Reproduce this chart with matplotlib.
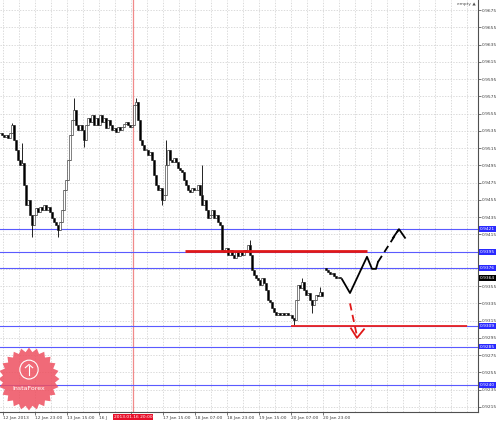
import numpy as np
import matplotlib
matplotlib.use("Agg")
import matplotlib.pyplot as plt
import matplotlib.transforms as mtransforms

# hourly closes (one bar every 2 px)
closes = [
    0.9532, 0.9530, 0.9528, 0.9530, 0.9527, 0.9532, 0.9542, 0.9524, 0.9513, 0.9501,
    0.9495, 0.9498, 0.9472, 0.9449, 0.9455, 0.9437, 0.9426, 0.9437, 0.9446, 0.9441,
    0.9447, 0.9443, 0.9449, 0.9443, 0.9447, 0.9441, 0.9434, 0.9429, 0.9426, 0.9420,
    0.9429, 0.9443, 0.9466, 0.9478, 0.9501, 0.9530, 0.9548, 0.9559, 0.9542, 0.9536,
    0.9542, 0.9536, 0.9524, 0.9542, 0.9550, 0.9545, 0.9553, 0.9542, 0.9550, 0.9542,
    0.9553, 0.9545, 0.9550, 0.9538, 0.9548, 0.9542, 0.9536, 0.9538, 0.9534, 0.9539,
    0.9536, 0.9539, 0.9543, 0.9545, 0.9542, 0.9539, 0.9542, 0.9565, 0.9568, 0.9548,
    0.9524, 0.9519, 0.9513, 0.9513, 0.9507, 0.9510, 0.9501, 0.9484, 0.9472, 0.9466,
    0.9469, 0.9455, 0.9461, 0.9495, 0.9513, 0.9501, 0.9499, 0.9503, 0.9499, 0.9492,
    0.9490, 0.9487, 0.9478, 0.9472, 0.9466, 0.9464, 0.9469, 0.9466, 0.9466, 0.9472,
    0.9461, 0.9449, 0.9455, 0.9443, 0.9434, 0.9437, 0.9443, 0.9434, 0.9437, 0.9429,
    0.9426, 0.9397, 0.9395, 0.9399, 0.9391, 0.9397, 0.9391, 0.9388, 0.9395, 0.9390,
    0.9395, 0.9391, 0.9397, 0.9395, 0.9403, 0.9391, 0.9374, 0.9368, 0.9364, 0.9362,
    0.9356, 0.9364, 0.9359, 0.9350, 0.9339, 0.9337, 0.9330, 0.9325, 0.9322, 0.9324,
    0.9322, 0.9324, 0.9322, 0.9324, 0.9321, 0.9322, 0.9318, 0.9316, 0.9339, 0.9356,
    0.9353, 0.9360, 0.9350, 0.9345, 0.9347, 0.9339, 0.9333, 0.9339, 0.9345, 0.9343,
    0.9348, 0.9344,
]
# after the gap
closes2 = [0.9374, 0.9371, 0.9369, 0.9370, 0.9367, 0.9364, 0.9366, 0.9364]
gap_open = 0.9376

# wick extremes that stick out
spike_high = {6: 0.9544, 11: 0.9521, 37: 0.9573, 68: 0.9573, 83: 0.9524,
              101: 0.9495, 125: 0.9408, 151: 0.9364, 160: 0.9354}
spike_low = {16: 0.9412, 29: 0.9412, 42: 0.9516, 81: 0.9449, 147: 0.9310, 156: 0.9324}

# horizontal levels (blue) and their labels
levels = [0.9421, 0.9395, 0.9376, 0.9309, 0.9285, 0.9240]
resist_line = (92.5, 183.5, 0.9396)
support_line = (145.5, 233.5, 0.9309)
event_x = 66.5
event_label = "2013.01.16 20:00"

# forecast drawing
up_path_x = [171, 175, 183.5, 186, 188, 189]
up_path_y = [0.9363, 0.9347, 0.9389, 0.9375, 0.9375, 0.9383]
up_dash_x = [189, 199.5]
up_dash_y = [0.9383, 0.9421]
up_head_x = [196.5, 199.5, 202.5]
up_head_y = [0.9411, 0.9421, 0.9411]
dn_dash_x = [175, 178.5]
dn_dash_y = [0.9335, 0.9297]
dn_head_x = [175.5, 178.5, 182]
dn_head_y = [0.9306, 0.9295, 0.9305]

time_ticks = [1.5 + 16 * i for i in range(11)]
# the 16 Jan label is mostly hidden under the red time box
time_labels = ["12 Jan 2013", "12 Jan 23:00", "13 Jan 15:00", "16 J", "",
               "17 Jan 15:00", "18 Jan 07:00", "18 Jan 23:00", "19 Jan 15:00",
               "20 Jan 07:00", "20 Jan 23:00"]
price_ticks = [(9215 + 20 * i) / 10000 for i in range(24)]

fig = plt.figure(figsize=(4.99, 4.22), dpi=100)
fig.patch.set_facecolor("white")
ax = fig.add_axes([0, 10 / 422, 478 / 499, 412 / 422])
ax.set_xlim(0, 239)
ax.set_ylim(0.92091, 0.96866)

# grid
for gx in [1.5 + 8 * i for i in range(30)]:
    ax.axvline(gx, color="#cccccc", lw=0.5, ls=(0, (2, 2)), zorder=0)
for gy in price_ticks:
    ax.axhline(gy, color="#cccccc", lw=0.5, ls=(0, (2, 2)), zorder=0)

# candles
xs = list(range(len(closes))) + [len(closes) + 1 + i for i in range(len(closes2))]
cl = closes + closes2
opens = [closes[0]] + closes[:-1] + [gap_open] + closes2[:-1]
for x, o, c in zip(xs, opens, cl):
    hi = spike_high.get(x, max(o, c))
    lo = spike_low.get(x, min(o, c))
    ax.vlines(x, lo, hi, color="black", lw=0.6, zorder=3)
    body = max(abs(c - o), 0.00005)
    fc = "white" if c >= o else "black"
    ax.bar(x, body, bottom=min(o, c), width=0.85, color=fc,
           edgecolor="#202020", lw=0.4, zorder=4)

# levels
ax.axvline(event_x, color="#f08a8a", lw=0.9, zorder=2)
for lv in levels:
    ax.axhline(lv, color="#5a5aff", lw=0.8, zorder=2)
ax.hlines(resist_line[2], resist_line[0], resist_line[1], color="#e01818", lw=2.0, zorder=5)
ax.hlines(support_line[2], support_line[0], support_line[1], color="#e82020", lw=1.3, zorder=5)

# forecast arrows
ax.plot(up_path_x, up_path_y, color="black", lw=1.3, zorder=6)
ax.plot(up_dash_x, up_dash_y, color="black", lw=1.3, ls=(0, (4, 2.5)), zorder=6)
ax.plot(up_head_x, up_head_y, color="black", lw=1.3, zorder=6)
ax.plot(dn_dash_x, dn_dash_y, color="#e01818", lw=1.3, ls=(0, (4, 2.5)), zorder=6)
ax.plot(dn_head_x, dn_head_y, color="#e01818", lw=1.3, zorder=6)

# axes
for s in ["top", "left"]:
    ax.spines[s].set_visible(False)
ax.spines["right"].set_color("#505050")
ax.spines["bottom"].set_color("#505050")
ax.spines["right"].set_linewidth(0.8)
ax.spines["bottom"].set_linewidth(0.8)
ax.yaxis.tick_right()
ax.set_yticks(price_ticks)
# labels hidden behind a level box are left out
ax.set_yticklabels(["" if min(abs(v - lv) for lv in levels) < 0.00035 else f"{v:.4f}"
                    for v in price_ticks])
ax.set_xticks(time_ticks)
ax.set_xticklabels(time_labels, ha="left")
ax.tick_params(axis="both", labelsize=3.2, colors="#404040", length=2, width=0.5, pad=1)

ytr = mtransforms.blended_transform_factory(ax.transAxes, ax.transData)
for lv in levels:
    ax.text(1.004, lv, f"{lv:.4f}", transform=ytr, fontsize=3.2, color="white",
            ha="left", va="center", clip_on=False, zorder=10,
            bbox=dict(facecolor="#2a2aff", edgecolor="none", pad=0.7))
ax.text(1.004, cl[-1], f"{cl[-1]:.4f}", transform=ytr, fontsize=3.2, color="white",
        ha="left", va="center", clip_on=False, zorder=10,
        bbox=dict(facecolor="black", edgecolor="none", pad=0.7))

xtr = mtransforms.blended_transform_factory(ax.transData, ax.transAxes)
ax.text(event_x, -0.011, event_label, transform=xtr, fontsize=3.2, color="white",
        ha="center", va="center", clip_on=False, zorder=10,
        bbox=dict(facecolor="#e8102a", edgecolor="none", pad=0.7))

fig.text(457 / 499, 1 - 4 / 422, "empty \u25b2", fontsize=3.2, color="#505050",
         ha="left", va="center")

# InstaForex badge
lax = fig.add_axes([-3 / 499, 1 - 412 / 422, 64 / 499, 66 / 422])
lax.set_xlim(-1.05, 1.05)
lax.set_ylim(-1.05, 1.05)
lax.axis("off")
ang = np.linspace(0, 2 * np.pi, 49)
rad = np.where(np.arange(49) % 2 == 0, 1.0, 0.86)
lax.fill(rad * np.cos(ang), rad * np.sin(ang), color="#ee5060", alpha=0.85, lw=0)
lax.add_patch(plt.Circle((0, 0.3), 0.3, fill=False, ec="white", lw=0.8))
lax.plot([0, 0], [0.12, 0.42], color="white", lw=0.8)
lax.plot([-0.12, 0, 0.12], [0.36, 0.46, 0.36], color="white", lw=0.8)
lax.text(0, -0.3, "InstaForex", fontsize=4.5, color="white", ha="center", va="center")

fig.savefig("out.png", dpi=100)
